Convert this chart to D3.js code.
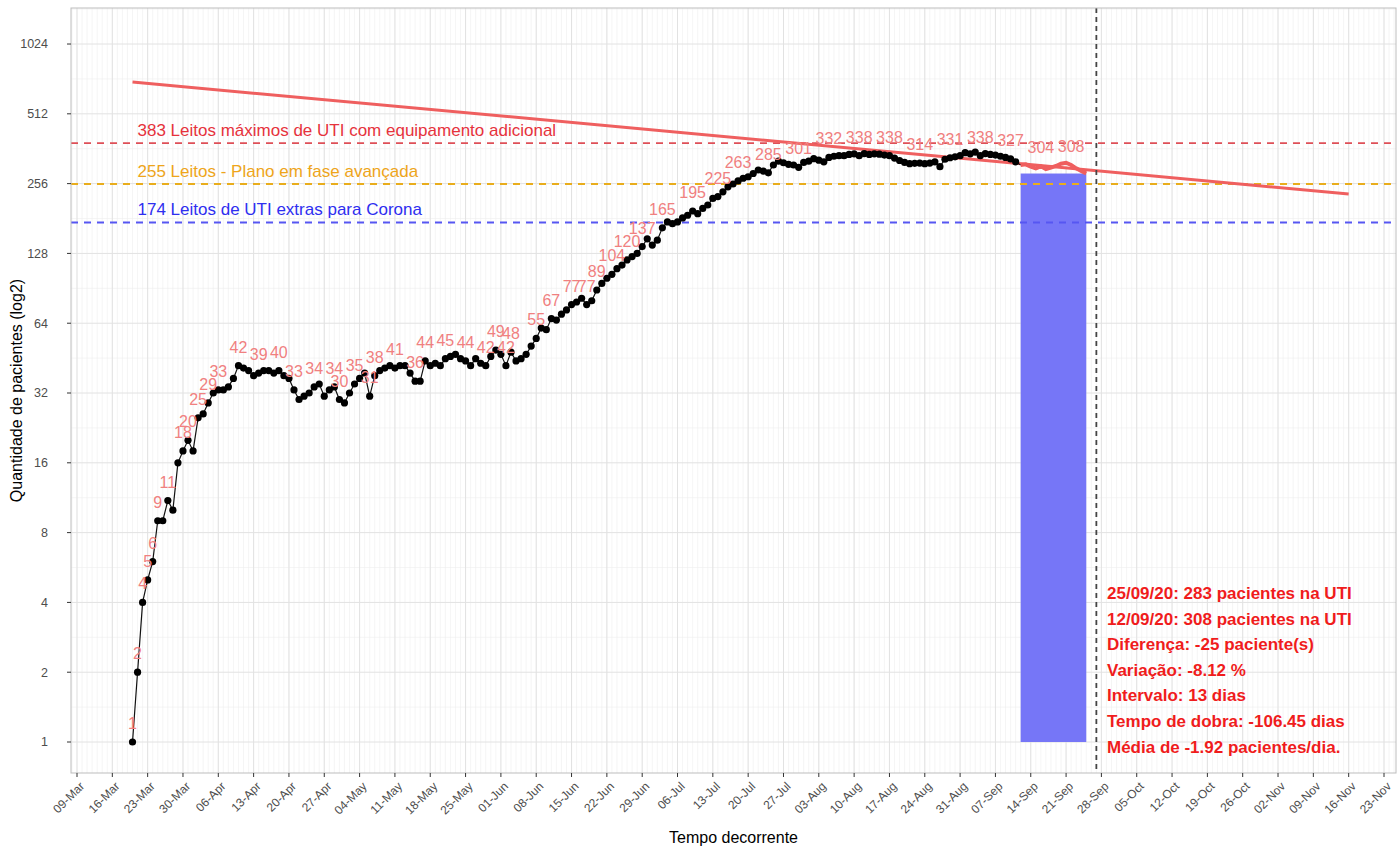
<!DOCTYPE html>
<html>
<head>
<meta charset="utf-8">
<script src="https://cdn.jsdelivr.net/npm/d3@7"></script>
<style>
  body { margin: 0; background: #fff; }
  svg { font-family: "Liberation Sans", Arial, sans-serif; }
</style>
</head>
<body>
<div id="chart"></div>
<script>
// daily ICU patients, starting 20-Mar-2020
const firstDay = "2020-03-20";
const patients = [
  1, 2, 4, 5, 6, 9, 9, 11, 10, 16,
  18, 20, 18, 25, 26, 29, 32, 33, 33, 34,
  37, 42, 41, 40, 38, 39, 40, 40, 39, 40,
  38, 37, 33, 30, 31, 32, 34, 35, 31, 33,
  34, 30, 29, 32, 35, 37, 39, 31, 38, 40,
  41, 42, 41, 42, 42, 39, 36, 36, 44, 42,
  43, 42, 45, 46, 47, 45, 44, 42, 45, 43,
  42, 46, 49, 47, 42, 48, 44, 45, 47, 51,
  55, 61, 60, 67, 66, 70, 73, 77, 79, 82,
  77, 80, 89, 95, 100, 104, 110, 114, 120, 124,
  128, 137, 148, 139, 146, 165, 175, 172, 175, 182,
  187, 195, 190, 200, 207, 221, 225, 236, 248, 255,
  263, 270, 274, 283, 293, 290, 285, 308, 320, 315,
  310, 308, 301, 316, 320, 328, 323, 318, 332, 336,
  338, 338, 342, 344, 338, 345, 342, 344, 343, 340,
  338, 330, 322, 316, 312, 313, 314, 312, 314, 318,
  303, 326, 331, 334, 338, 348, 344, 350, 338, 345,
  342, 340, 336, 332, 327, 318, 308, 310, 303, 298,
  304, 296, 300, 305, 312, 315, 308, 298, 290, 283
];
// days (offset from firstDay) that carry a value label
const labelDays = [0, 1, 2, 3, 4, 5, 7, 10, 11, 13, 15, 17, 21, 25, 29, 32, 36, 40, 41, 44,
  47, 48, 52, 56, 58, 62, 66, 70, 72, 74, 75, 80, 83, 87, 90, 92, 95, 98, 101, 105,
  111, 116, 120, 126, 132, 138, 144, 150, 156, 162, 168, 174, 180, 186];

// last 14 days window
const windowStart = "2020-09-12";
const windowEnd = "2020-09-25";
const windowValue = 283;

// fitted trend
const trendDates = ["2020-03-20", "2020-11-16"];
const trendValues = [702, 231];

const todayDate = "2020-09-27";

const bedValues = [383, 255, 174];
const bedLabels = [
  "383 Leitos máximos de UTI com equipamento adicional",
  "255 Leitos - Plano em fase avançada",
  "174 Leitos de UTI extras para Corona"
];
const bedColors = ["#de4f57", "#e9ad1c", "#5656f2"];
const bedTextColors = ["#e6323c", "#eea51a", "#2e2ef0"];

const yTicks = [1, 2, 4, 8, 16, 32, 64, 128, 256, 512, 1024];

const notes = [
  "25/09/20: 283 pacientes na UTI",
  "12/09/20: 308 pacientes na UTI",
  "Diferença: -25 paciente(s)",
  "Variação: -8.12 %",
  "Intervalo: 13 dias",
  "Tempo de dobra: -106.45 dias",
  "Média de -1.92 pacientes/dia."
];

const W = 1398, H = 847;
const panel = { left: 71, right: 1396, top: 8, bottom: 773 };

const parse = d3.utcParse("%Y-%m-%d");
const start = parse(firstDay);
const series = patients.map((v, i) => ({ date: d3.utcDay.offset(start, i), value: v }));

const x = d3.scaleUtc()
  .domain([parse("2020-03-09"), parse("2020-11-23")])
  .range([77, 1384]);

const y = d3.scaleLog().base(2)
  .domain([Math.pow(2, -0.444), Math.pow(2, 10.516)])
  .range([panel.bottom, panel.top]);

const svg = d3.select("#chart").append("svg")
  .attr("width", W)
  .attr("height", H);

svg.append("defs").append("clipPath").attr("id", "clip")
  .append("rect")
  .attr("x", panel.left).attr("y", panel.top)
  .attr("width", panel.right - panel.left)
  .attr("height", panel.bottom - panel.top);

const grid = svg.append("g");

// minor grid: daily vertical, half-doubling horizontal
const days = d3.utcDay.range(parse("2020-03-08"), parse("2020-11-27"));
grid.selectAll("line.vminor")
  .data(days)
  .enter().append("line")
  .attr("x1", d => x(d)).attr("x2", d => x(d))
  .attr("y1", panel.top).attr("y2", panel.bottom)
  .attr("stroke", "#efefef").attr("stroke-width", 0.6);

const yMinor = d3.range(-1, 11).map(k => Math.pow(2, k + 0.5)).filter(v => y(v) > panel.top && y(v) < panel.bottom);
grid.selectAll("line.hminor")
  .data(yMinor)
  .enter().append("line")
  .attr("x1", panel.left).attr("x2", panel.right)
  .attr("y1", d => y(d)).attr("y2", d => y(d))
  .attr("stroke", "#efefef").attr("stroke-width", 0.6);

const weeks = d3.utcMonday.range(parse("2020-03-09"), parse("2020-11-24"));
grid.selectAll("line.vmajor")
  .data(weeks)
  .enter().append("line")
  .attr("x1", d => x(d)).attr("x2", d => x(d))
  .attr("y1", panel.top).attr("y2", panel.bottom)
  .attr("stroke", "#e2e2e2").attr("stroke-width", 1);

grid.selectAll("line.hmajor")
  .data(yTicks)
  .enter().append("line")
  .attr("x1", panel.left).attr("x2", panel.right)
  .attr("y1", d => y(d)).attr("y2", d => y(d))
  .attr("stroke", "#e2e2e2").attr("stroke-width", 1);

const plot = svg.append("g").attr("clip-path", "url(#clip)");

// 14-day window bar
plot.append("rect")
  .attr("x", x(parse(windowStart)))
  .attr("width", x(parse(windowEnd)) - x(parse(windowStart)))
  .attr("y", y(windowValue))
  .attr("height", y(1) - y(windowValue))
  .attr("fill", "#7676f7");

// bed capacity lines
bedValues.forEach((v, i) => {
  plot.append("line")
    .attr("x1", panel.left).attr("x2", panel.right)
    .attr("y1", y(v)).attr("y2", y(v))
    .attr("stroke", bedColors[i])
    .attr("stroke-width", 1.8)
    .attr("stroke-dasharray", "7,6");
  plot.append("text")
    .attr("x", x(start) + 5)
    .attr("y", y(v) - 7)
    .attr("fill", bedTextColors[i])
    .attr("font-size", 17)
    .text(bedLabels[i]);
});

// trend
const line = d3.line().x(d => x(d.date)).y(d => y(d.value));
plot.append("path")
  .datum(trendDates.map((d, i) => ({ date: parse(d), value: trendValues[i] })))
  .attr("d", line)
  .attr("fill", "none")
  .attr("stroke", "#ef5f5f")
  .attr("stroke-width", 3);

// observed series
const cut = d3.bisector(d => d.date).left(series, parse(windowStart));
const past = series.slice(0, cut + 1);
const recent = series.slice(cut);

plot.append("path")
  .datum(past)
  .attr("d", line)
  .attr("fill", "none")
  .attr("stroke", "#111")
  .attr("stroke-width", 1.2);

plot.selectAll("circle.pt")
  .data(series.slice(0, cut))
  .enter().append("circle")
  .attr("cx", d => x(d.date))
  .attr("cy", d => y(d.value))
  .attr("r", 3.6)
  .attr("fill", "#000");

plot.append("path")
  .datum(recent)
  .attr("d", line)
  .attr("fill", "none")
  .attr("stroke", "#ef5f5f")
  .attr("stroke-width", 4);

// value labels
plot.selectAll("text.lbl")
  .data(labelDays.map(i => series[i]))
  .enter().append("text")
  .attr("x", d => x(d.date))
  .attr("y", d => y(d.value) - 13)
  .attr("text-anchor", "middle")
  .attr("fill", "#f08080")
  .attr("font-size", 16)
  .text(d => d.value);

// today marker
plot.append("line")
  .attr("x1", x(parse(todayDate))).attr("x2", x(parse(todayDate)))
  .attr("y1", panel.top).attr("y2", panel.bottom)
  .attr("stroke", "#444")
  .attr("stroke-width", 1.8)
  .attr("stroke-dasharray", "5,4");

// summary text
svg.append("g").selectAll("text")
  .data(notes)
  .enter().append("text")
  .attr("x", 1107)
  .attr("y", (d, i) => 599 + i * 25.6)
  .attr("fill", "#f01c1c")
  .attr("font-weight", "bold")
  .attr("font-size", 17)
  .text(d => d);

// panel border
svg.append("rect")
  .attr("x", panel.left).attr("y", panel.top)
  .attr("width", panel.right - panel.left)
  .attr("height", panel.bottom - panel.top)
  .attr("fill", "none")
  .attr("stroke", "#bdbdbd")
  .attr("stroke-width", 1);

// axes
const fmt = d3.utcFormat("%d-%b");
const xAxis = svg.append("g").attr("transform", `translate(0,${panel.bottom})`);
xAxis.selectAll("line")
  .data(weeks)
  .enter().append("line")
  .attr("x1", d => x(d)).attr("x2", d => x(d))
  .attr("y1", 0).attr("y2", 4)
  .attr("stroke", "#333");
xAxis.selectAll("text")
  .data(weeks)
  .enter().append("text")
  .attr("transform", d => `translate(${x(d) + 8},${14}) rotate(-45)`)
  .attr("text-anchor", "end")
  .attr("fill", "#4d4d4d")
  .attr("font-size", 12)
  .text(d => fmt(d));

const yAxis = svg.append("g").attr("transform", `translate(${panel.left},0)`);
yAxis.selectAll("line")
  .data(yTicks)
  .enter().append("line")
  .attr("x1", -4).attr("x2", 0)
  .attr("y1", d => y(d)).attr("y2", d => y(d))
  .attr("stroke", "#333");
yAxis.selectAll("text")
  .data(yTicks)
  .enter().append("text")
  .attr("x", -23)
  .attr("y", d => y(d))
  .attr("dy", "0.35em")
  .attr("text-anchor", "end")
  .attr("fill", "#4d4d4d")
  .attr("font-size", 12.5)
  .text(d => d);

svg.append("text")
  .attr("x", (panel.left + panel.right) / 2)
  .attr("y", 843)
  .attr("text-anchor", "middle")
  .attr("font-size", 16)
  .attr("fill", "#000")
  .text("Tempo decorrente");

svg.append("text")
  .attr("transform", `translate(22,${(panel.top + panel.bottom) / 2}) rotate(-90)`)
  .attr("text-anchor", "middle")
  .attr("font-size", 16)
  .attr("fill", "#000")
  .text("Quantidade de pacientes (log2)");
</script>
</body>
</html>
